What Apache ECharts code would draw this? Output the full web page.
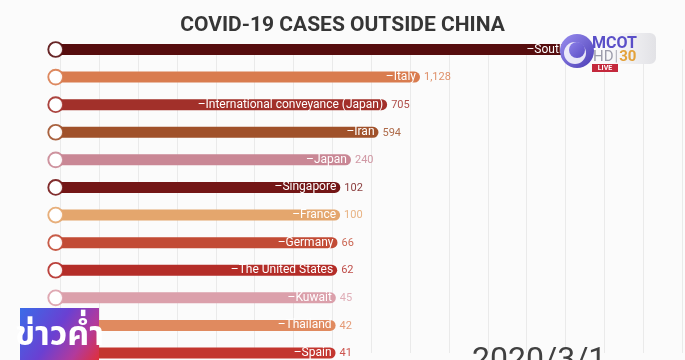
<!DOCTYPE html>
<html>
<head>
<meta charset="utf-8">
<script src="https://cdn.jsdelivr.net/npm/echarts@6/dist/echarts.min.js"></script>
<style>
html,body{margin:0;padding:0;background:#fbfbfb;}
#chart{width:685px;height:360px;}
</style>
</head>
<body>
<div id="chart"></div>
<script>
// ---- data ----
const chartTitle = 'COVID-19 CASES OUTSIDE CHINA';
const dateLabel = '2020/3/1';
const categories = ['South Korea', 'Italy', 'International conveyance (Japan)', 'Iran', 'Japan', 'Singapore', 'France', 'Germany', 'The United States', 'Kuwait', 'Thailand', 'Spain'];
const cases = [3490, 1128, 705, 594, 240, 102, 100, 66, 62, 45, 42, 41];
const barColors = ['#560d0e', '#d97c4f', '#a2302a', '#a0512a', '#c98795', '#731616', '#e4a66d', '#c24b35', '#b42d28', '#dba0ab', '#e08a5f', '#c3362f'];
const axisMin = -3500, axisMax = 4500, axisStep = 500;

const chart = echarts.init(document.getElementById('chart'), null, {renderer: 'canvas'});
const BAR_H = 11;

function fmt(v) { return Math.round(v).toLocaleString('en-US'); }

const option = {
  backgroundColor: '#fbfbfb',
  animation: false,
  title: {
    text: chartTitle,
    left: 'center',
    top: 10,
    textStyle: {fontFamily: 'Roboto', fontWeight: 'bold', fontSize: 21, color: '#363636'}
  },
  grid: {left: 60.4, right: 3, top: 49.5, height: 303.5, containLabel: false},
  xAxis: {
    type: 'value', min: axisMin, max: axisMax, interval: axisStep,
    axisLine: {show: false}, axisTick: {show: false}, axisLabel: {show: false},
    splitLine: {show: true, lineStyle: {color: '#eaeaea', width: 1}}
  },
  yAxis: {
    type: 'category', data: categories, inverse: true, boundaryGap: false,
    axisLine: {show: false}, axisTick: {show: false}, axisLabel: {show: false},
    splitLine: {show: false}
  },
  series: [{
    type: 'custom',
    clip: false,
    data: cases.map((v, i) => [v, i]),
    encode: {x: 0, y: 1},
    renderItem: function (params, api) {
      const i = params.dataIndex;
      const val = api.value(0);
      const start = api.coord([axisMin, i]);
      const end = api.coord([val, i]);
      const color = barColors[i];
      const y = end[1];
      return {
        type: 'group',
        children: [
          {type: 'rect', shape: {x: start[0], y: y - BAR_H / 2, width: end[0] - start[0], height: BAR_H, r: [0, BAR_H / 2, BAR_H / 2, 0]}, style: {fill: color}},
          {type: 'text', style: {text: '\u2013' + categories[i], x: end[0] - 4, y: y, align: 'right', verticalAlign: 'middle', fill: '#ffffff', font: '12px Roboto'}},
          {type: 'text', style: {text: fmt(val), x: end[0] + 4, y: y + 0.5, align: 'left', verticalAlign: 'middle', fill: color, opacity: 0.85, font: '11px Roboto'}},
          {type: 'circle', shape: {cx: start[0] - 4.7, cy: y, r: 7.4}, style: {fill: '#ffffff', stroke: color, lineWidth: 1.9, opacity: 0.9}}
        ]
      };
    }
  }],
  graphic: [
    {type: 'text', left: 472, top: 345, z: 10, style: {text: dateLabel, font: '32px Roboto', fill: '#404040'}},
    // MCOT logo overlay
    {type: 'rect', z: 20, shape: {x: 561, y: 33, width: 95, height: 31, r: [16, 6, 6, 16]},
      style: {fill: new echarts.graphic.LinearGradient(0, 0, 1, 0, [{offset: 0, color: '#ffffff'}, {offset: 0.6, color: '#f6f6f8'}, {offset: 1, color: '#e2e2e6'}])}},
    {type: 'circle', z: 21, shape: {cx: 577, cy: 51, r: 17},
      style: {fill: new echarts.graphic.LinearGradient(0, 0, 1, 1, [{offset: 0, color: '#9a8ff0'}, {offset: 1, color: '#4b3db5'}])}},
    {type: 'circle', z: 22, shape: {cx: 575, cy: 53, r: 11}, style: {fill: '#ffffff', opacity: 0.85}},
    {type: 'circle', z: 23, shape: {cx: 577, cy: 50, r: 8},
      style: {fill: new echarts.graphic.LinearGradient(0, 0, 1, 1, [{offset: 0, color: '#8c80e8'}, {offset: 1, color: '#5a4cc4'}])}},
    {type: 'text', z: 24, x: 592, y: 36, style: {text: 'MCOT', font: 'bold 16px Roboto', fill: '#5a4fc8'}},
    {type: 'text', z: 24, x: 593, y: 50, style: {text: '{a|HD}{b||}{c|30}', rich: {a: {font: '15px Roboto', fill: '#9c9cab'}, b: {font: '15px Roboto', fill: '#b0b0bb', padding: [0, 1, 0, 1]}, c: {font: 'bold 15px Roboto', fill: '#e3a23b'}}}},
    {type: 'rect', z: 24, shape: {x: 592, y: 64, width: 26, height: 8}, style: {fill: '#c4283c'}},
    {type: 'text', z: 25, x: 605, y: 68, style: {text: 'LIVE', font: 'bold 7px Roboto', fill: '#ffffff', align: 'center', verticalAlign: 'middle'}},
    // news programme overlay
    {type: 'rect', z: 20, shape: {x: 20, y: 308, width: 79, height: 52},
      style: {fill: new echarts.graphic.LinearGradient(0, 0, 1, 1, [{offset: 0, color: '#3a6ce8'}, {offset: 0.45, color: '#6a40d2'}, {offset: 0.75, color: '#b23a9c'}, {offset: 1, color: '#e0303a'}])}},
    {type: 'text', z: 21, x: 59.5, y: 338, style: {text: 'ข่าวค่ำ', font: 'bold 34px "Noto Sans Thai", "Noto Sans", sans-serif', fill: '#ffffff', align: 'center', verticalAlign: 'middle'}}
  ]
};
chart.setOption(option);
</script>
</body>
</html>
